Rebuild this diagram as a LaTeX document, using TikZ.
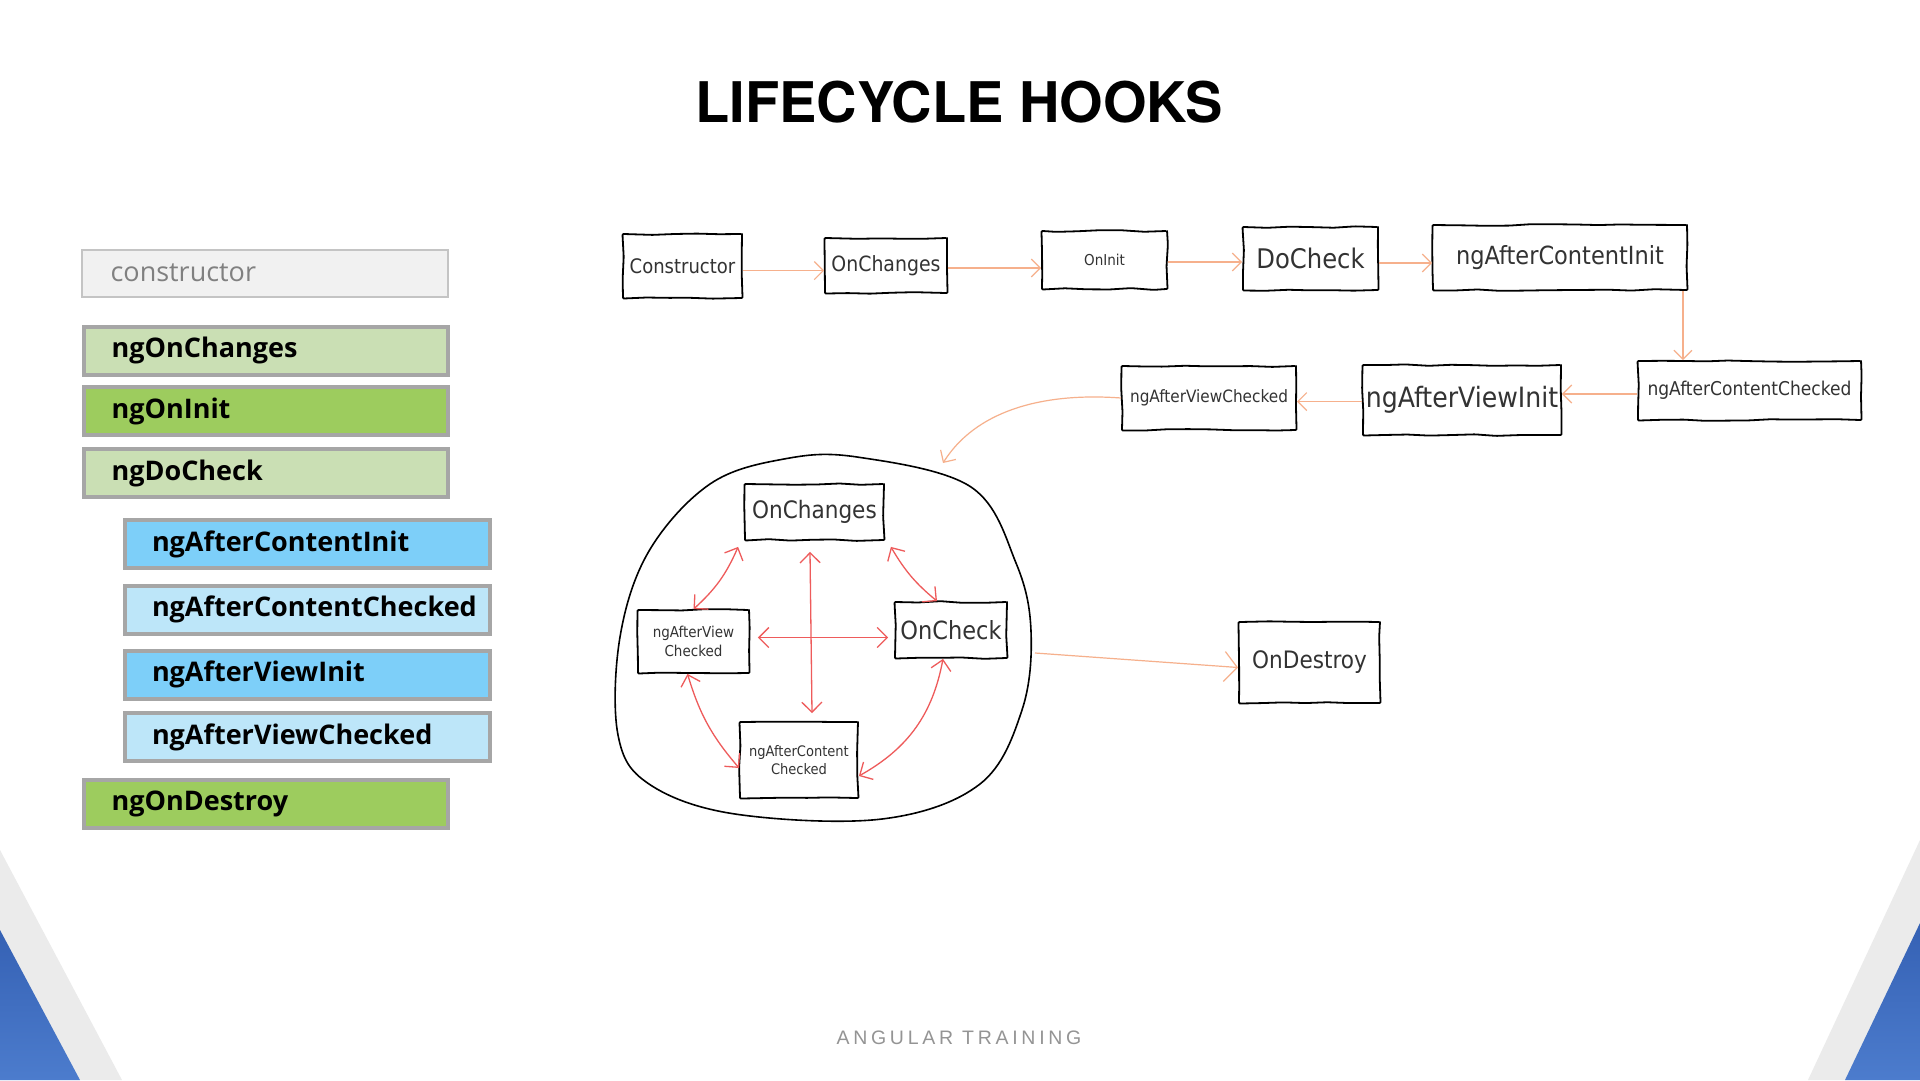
\documentclass[tikz,border=0pt]{standalone}
\usepackage{fontspec}
\setmainfont{TeX Gyre Heros}
\newfontfamily\listfont{Open Sans}
\newfontfamily\sketchfont{DejaVu Sans Condensed}
\newfontfamily\footfont[LetterSpace=19]{Liberation Sans}
\usetikzlibrary{arrows.meta,decorations.pathmorphing,positioning}
\definecolor{hookline}{HTML}{A6A6A6}
\definecolor{ctorfill}{HTML}{F1F1F1}
\definecolor{ctorline}{HTML}{C4C4C4}
\definecolor{lgreen}{HTML}{CADFB4}
\definecolor{dgreen}{HTML}{9DCC5E}
\definecolor{dblue}{HTML}{7DCFF9}
\definecolor{lblue}{HTML}{BDE6F9}
\definecolor{sktext}{HTML}{333333}
\definecolor{orangeline}{HTML}{F6B08C}
\definecolor{redline}{HTML}{EE5B5B}
\definecolor{cornergray}{HTML}{EBEBEB}
\definecolor{cornerblue1}{HTML}{3561B4}
\definecolor{cornerblue2}{HTML}{4C7CCD}
\newcommand\skfs[1]{\fontsize{#1}{\dimexpr #1pt*5/4\relax}\selectfont}
\tikzset{
  hook/.style={draw=hookline, line width=4pt, minimum height=48pt, text width=308pt,
    inner xsep=28pt, inner ysep=0pt, align=left, anchor=west,
    font=\listfont\bfseries\fontsize{27}{29}\selectfont},
  subhook/.style={hook, text width=311pt, inner xsep=27pt},
  sk/.style={draw, line width=1.8pt, inner sep=0pt, text=sktext, align=center,
    decorate, decoration={random steps, segment length=22pt, amplitude=0.9pt},
    rounded corners=1pt, font=\sketchfont},
  oarr/.style={draw=orangeline, line width=1.2pt, -{Straight Barb[length=9pt,width=18pt]}},
  rarr/.style={draw=redline, line width=1.3pt,
    {Straight Barb[length=10pt,width=20pt]}-{Straight Barb[length=10pt,width=20pt]}}
}
\begin{document}
\begin{tikzpicture}[x=1pt, y=-1pt]
\pgfmathsetseed{7}
\useasboundingbox (0,0) rectangle (1920,1080);
\fill[white] (0,0) rectangle (1920,1080);
\fill[cornergray] (0,850) -- (122,1080) -- (0,1080) -- cycle;
\shade[top color=cornerblue1, bottom color=cornerblue2] (0,930) -- (80,1080) -- (0,1080) -- cycle;
\fill[cornergray] (1920,840) -- (1808,1080) -- (1920,1080) -- cycle;
\shade[top color=cornerblue1, bottom color=cornerblue2] (1920,923) -- (1845,1080) -- (1920,1080) -- cycle;

\node (title) at (959,102) {\bfseries\fontsize{56}{60}\selectfont LIFECYCLE HOOKS};
\node (footer) at (959,1038) {\footfont\color{black!42}\fontsize{19.5}{20}\selectfont ANGULAR TRAINING};

\node (ctor)[hook, draw=ctorline, line width=2pt, minimum height=47pt, inner xsep=29pt, text width=308pt, fill=ctorfill, text=black!50, font=\listfont\fontsize{27}{29}\selectfont] at (80.6,273) {constructor};
\node (ngchanges)[hook, fill=lgreen] at (81.6,350.8) {ngOnChanges};
\node (nginit)[hook, fill=dgreen] at (81.6,411.4) {ngOnInit};
\node (ngcheck)[hook, fill=lgreen] at (81.6,473.3) {ngDoCheck};
\node (ngaci)[subhook, fill=dblue] at (123,544.3) {ngAfterContentInit};
\node (ngacc)[subhook, fill=lblue] at (123,609.8) {ngAfterContentChecked};
\node (ngavi)[subhook, fill=dblue] at (123,674.6) {ngAfterViewInit};
\node (ngavc)[subhook, fill=lblue] at (123,737.2) {ngAfterViewChecked};
\node (ngdestroy)[hook, fill=dgreen] at (81.6,803.8) {ngOnDestroy};

\node (cons)[sk, minimum width=119pt, minimum height=64pt, font=\sketchfont\skfs{20}] at (682.5,266) {Constructor};
\node (onch)[sk, minimum width=122pt, minimum height=55pt, font=\sketchfont\skfs{21}] at (886,265.5) {OnChanges};
\node (oninit)[sk, minimum width=125pt, minimum height=58pt, font=\sketchfont\skfs{15}] at (1104.5,260) {OnInit};
\node (docheck)[sk, minimum width=135pt, minimum height=63pt, font=\sketchfont\skfs{27}] at (1310.5,258.5) {DoCheck};
\node (aci)[sk, minimum width=254pt, minimum height=65pt, font=\sketchfont\skfs{25}] at (1560,257.5) {ngAfterContentInit};
\node (acc)[sk, minimum width=223pt, minimum height=59pt, font=\sketchfont\skfs{19}] at (1749.5,390.5) {ngAfterContentChecked};
\node (avi)[sk, minimum width=198pt, minimum height=70pt, font=\sketchfont\skfs{28}] at (1462,400) {ngAfterViewInit};
\node (avc)[sk, minimum width=174pt, minimum height=64pt, font=\sketchfont\skfs{17}] at (1209,398) {ngAfterViewChecked};

\draw[line width=1.6pt] plot[smooth cycle, tension=0.6] coordinates {(857,457) (971,487) (1016,563) (1031,631) (1022,710) (980,784) (882,819) (735,814) (649,784) (618,735) (620,637) (649,551) (710,484) (784,459)};
\coordinate (cyctop) at (943,463);
\coordinate (cycright) at (1035,653);

\node (inoc)[sk, minimum width=139pt, minimum height=56pt, font=\sketchfont\skfs{24}] at (814.5,512) {OnChanges};
\node (inavc)[sk, minimum width=111pt, minimum height=63pt, font=\sketchfont\skfs{15}] at (693.5,641.5) {ngAfterView\\Checked};
\node (inck)[sk, minimum width=112pt, minimum height=56pt, font=\sketchfont\skfs{25}] at (951,630) {OnCheck};
\node (inacc)[sk, minimum width=118pt, minimum height=76pt, font=\sketchfont\skfs{14.5}] at (799,760) {ngAfterContent\\Checked};
\node (ondestroy)[sk, minimum width=141pt, minimum height=81pt, font=\sketchfont\skfs{24}] at (1309.5,662.5) {OnDestroy};

\draw[oarr] ([yshift=-4.6pt]cons.east) -- ([yshift=-4.6pt]cons.east -| onch.west);
\draw[oarr] ([yshift=-2.5pt]onch.east) -- ([yshift=-2.5pt]onch.east -| oninit.west);
\draw[oarr] ([yshift=-2pt]oninit.east) -- ([yshift=-2pt]oninit.east -| docheck.west);
\draw[oarr] ([yshift=-4.5pt]docheck.east) -- ([yshift=-4.5pt]docheck.east -| aci.west);
\draw[oarr] ([xshift=-5pt]aci.south east) -- ([xshift=-5pt]aci.south east |- acc.north);
\draw[oarr] ([yshift=-3.5pt]acc.west) -- ([yshift=-3.5pt]acc.west -| avi.east);
\draw[oarr] ([yshift=-1.6pt]avi.west) -- ([yshift=-1.6pt]avi.west -| avc.east);
\draw[oarr] (avc.west) .. controls (1040,392) and (975,412) .. (cyctop);
\draw[draw=orangeline, line width=1.2pt, -{Straight Barb[length=13pt,width=30pt]}] (cycright) -- ([yshift=-5pt]ondestroy.west);

\draw[rarr] ([xshift=-6pt,yshift=-6pt]inoc.south west) to[bend left=12] (inavc.north);
\draw[rarr] ([xshift=6pt,yshift=-6pt]inoc.south east) to[bend right=10] ([xshift=-14pt]inck.north);
\draw[rarr] ([xshift=-4.5pt,yshift=-11pt]inoc.south) -- ([xshift=13pt,yshift=8pt]inacc.north);
\draw[rarr] ([xshift=8pt,yshift=4pt]inavc.east) -- ([xshift=-6pt,yshift=4pt]inavc.east -| inck.west);
\draw[rarr] ([xshift=-6pt]inavc.south) to[bend right=12] ([yshift=-8pt]inacc.west);
\draw[rarr] ([xshift=-8pt]inck.south) to[bend left=25] ([yshift=-16pt]inacc.east);
\end{tikzpicture}
\end{document}
